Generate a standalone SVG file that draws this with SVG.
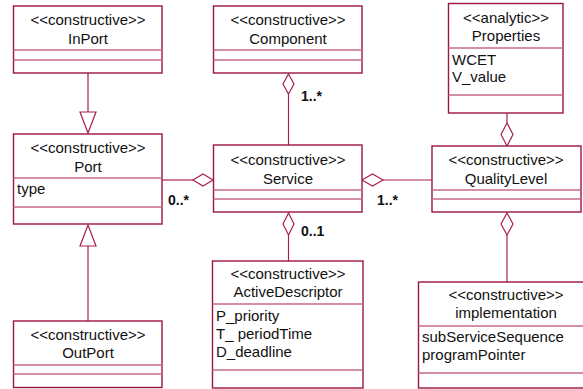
<svg xmlns="http://www.w3.org/2000/svg" width="583" height="389" viewBox="0 0 583 389">
<style>
.box{fill:#fff;stroke:#9b1542;stroke-width:1.4}
.sep{stroke:#c46a88;stroke-width:1.3}
.ln{stroke:#a8204d;stroke-width:1.2;fill:none}
.dia{fill:#fff;stroke:#a8204d;stroke-width:1.2}
text{font-family:"Liberation Sans",Arial,sans-serif;font-size:15px;fill:#111}
.c{text-anchor:middle}
.lbl{font-weight:bold;font-size:14px}
</style>
<rect width="583" height="389" fill="#fff"/>
<g id="connectors">
<line class="ln" x1="88" y1="73" x2="88" y2="112"/>
<polygon class="dia" points="80,112 96,112 88,133"/>
<line class="ln" x1="88" y1="246" x2="88" y2="321"/>
<polygon class="dia" points="80,246 96,246 88,225"/>
<line class="ln" x1="162" y1="180" x2="193" y2="180"/>
<polygon class="dia" points="193,180 203,174 213,180 203,186"/>
<line class="ln" x1="288.5" y1="94" x2="288.5" y2="145"/>
<polygon class="dia" points="288.5,74 294,84 288.5,94 283,84"/>
<line class="ln" x1="288.5" y1="235" x2="288.5" y2="261"/>
<polygon class="dia" points="288.5,213 294,224 288.5,235 283,224"/>
<line class="ln" x1="383" y1="180" x2="432" y2="180"/>
<polygon class="dia" points="362,180 372.5,174 383,180 372.5,186"/>
<line class="ln" x1="507" y1="113" x2="507" y2="123"/>
<polygon class="dia" points="507,123 513,134.5 507,146 501,134.5"/>
<line class="ln" x1="507" y1="235" x2="507" y2="282"/>
<polygon class="dia" points="507,213 513,224 507,235 501,224"/>
<text class="lbl" x="301" y="101">1..*</text>
<text class="lbl" x="168" y="205">0..*</text>
<text class="lbl" x="301" y="236">0..1</text>
<text class="lbl" x="377" y="205">1..*</text>
</g>
<g id="InPort">
<rect class="box" x="13.5" y="6" width="148.5" height="67"/>
<line class="sep" x1="13.5" y1="50" x2="162" y2="50"/>
<line class="sep" x1="13.5" y1="60" x2="162" y2="60"/>
<text class="c" x="88" y="25">&lt;&lt;constructive&gt;&gt;</text>
<text class="c" x="88" y="44">InPort</text>
</g>
<g id="Component">
<rect class="box" x="213.5" y="6" width="148.5" height="67"/>
<line class="sep" x1="213.5" y1="50" x2="362" y2="50"/>
<line class="sep" x1="213.5" y1="60" x2="362" y2="60"/>
<text class="c" x="288" y="25">&lt;&lt;constructive&gt;&gt;</text>
<text class="c" x="288" y="44">Component</text>
</g>
<g id="Properties">
<rect class="box" x="448.5" y="3.5" width="114.5" height="109.5"/>
<line class="sep" x1="448.5" y1="48" x2="563" y2="48"/>
<line class="sep" x1="448.5" y1="95" x2="563" y2="95"/>
<text class="c" x="506" y="23">&lt;&lt;analytic&gt;&gt;</text>
<text class="c" x="506" y="41">Properties</text>
<text x="452" y="65">WCET</text>
<text x="452" y="82">V_value</text>
</g>
<g id="Port">
<rect class="box" x="13.5" y="134" width="148.5" height="90"/>
<line class="sep" x1="13.5" y1="178" x2="162" y2="178"/>
<line class="sep" x1="13.5" y1="207" x2="162" y2="207"/>
<text class="c" x="88" y="153">&lt;&lt;constructive&gt;&gt;</text>
<text class="c" x="88" y="172">Port</text>
<text x="17" y="194">type</text>
</g>
<g id="Service">
<rect class="box" x="213.5" y="145" width="148.5" height="67"/>
<line class="sep" x1="213.5" y1="190" x2="362" y2="190"/>
<line class="sep" x1="213.5" y1="199" x2="362" y2="199"/>
<text class="c" x="288" y="165">&lt;&lt;constructive&gt;&gt;</text>
<text class="c" x="288" y="184">Service</text>
</g>
<g id="QualityLevel">
<rect class="box" x="432" y="146" width="149" height="66"/>
<line class="sep" x1="432" y1="190" x2="581" y2="190"/>
<line class="sep" x1="432" y1="199" x2="581" y2="199"/>
<text class="c" x="506" y="165">&lt;&lt;constructive&gt;&gt;</text>
<text class="c" x="506" y="184">QualityLevel</text>
</g>
<g id="OutPort">
<rect class="box" x="13.5" y="321" width="148.5" height="66.5"/>
<line class="sep" x1="13.5" y1="365" x2="162" y2="365"/>
<line class="sep" x1="13.5" y1="374" x2="162" y2="374"/>
<text class="c" x="88" y="340">&lt;&lt;constructive&gt;&gt;</text>
<text class="c" x="88" y="358">OutPort</text>
</g>
<g id="ActiveDescriptor">
<rect class="box" x="212.5" y="261" width="150.5" height="127"/>
<line class="sep" x1="212.5" y1="304" x2="363" y2="304"/>
<line class="sep" x1="212.5" y1="370" x2="363" y2="370"/>
<text class="c" x="288" y="279">&lt;&lt;constructive&gt;&gt;</text>
<text class="c" x="288" y="297">ActiveDescriptor</text>
<text x="216" y="321">P_priority</text>
<text x="216" y="339">T_ periodTime</text>
<text x="216" y="357">D_deadline</text>
</g>
<g id="implementation">
<rect class="box" x="418.5" y="282" width="180" height="106"/>
<line class="sep" x1="418.5" y1="326" x2="583" y2="326"/>
<line class="sep" x1="418.5" y1="373" x2="583" y2="373"/>
<text class="c" x="506" y="300">&lt;&lt;constructive&gt;&gt;</text>
<text class="c" x="506" y="318">implementation</text>
<text x="422" y="342">subServiceSequence</text>
<text x="422" y="360">programPointer</text>
</g>
</svg>
